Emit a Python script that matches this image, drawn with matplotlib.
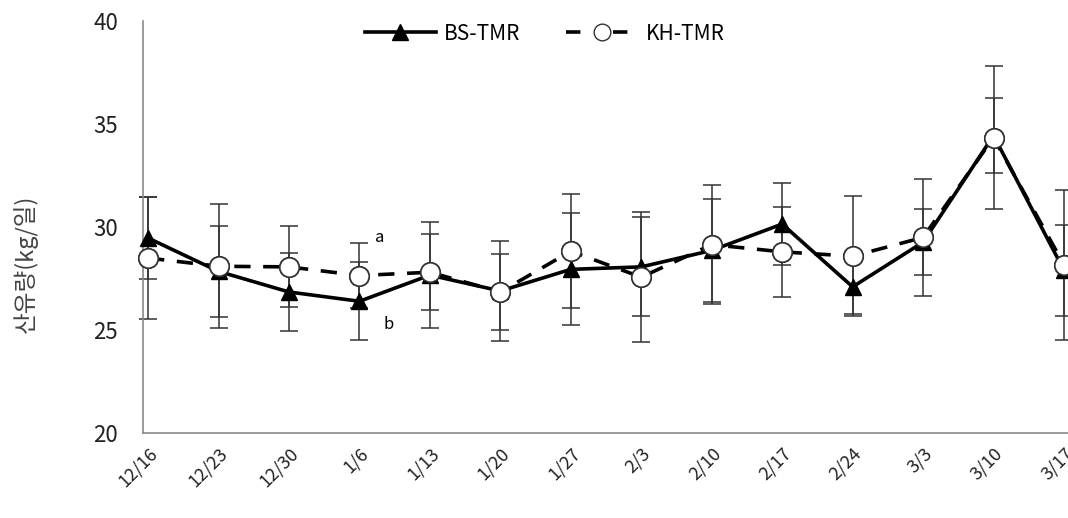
import numpy as np
import matplotlib
matplotlib.use('Agg')
import matplotlib.pyplot as plt
from matplotlib.lines import Line2D
from matplotlib.transforms import ScaledTranslation

plt.rcParams['font.family'] = ['Noto Sans CJK KR', 'DejaVu Sans']

# 주차별 산유량 (평균, 표준편차)
dates = ['12/16', '12/23', '12/30', '1/6', '1/13', '1/20', '1/27',
         '2/3', '2/10', '2/17', '2/24', '3/3', '3/10', '3/17']
bs_mean = [29.47, 27.85, 26.85, 26.4, 27.67, 26.9, 27.95,
           28.07, 28.87, 30.15, 27.1, 29.27, 34.45, 27.9]
bs_sd = [2.0, 2.2, 1.9, 1.9, 2.56, 2.45, 2.72,
         2.4, 2.5, 1.97, 1.3, 1.6, 1.8, 2.2]
kh_mean = [28.5, 28.1, 28.07, 27.65, 27.81, 26.85, 28.83,
           27.57, 29.15, 28.8, 28.59, 29.5, 34.35, 28.17]
kh_sd = [2.95, 3.0, 1.97, 1.6, 1.84, 1.85, 2.78,
         3.15, 2.9, 2.18, 2.9, 2.85, 3.48, 3.63]

x = np.arange(len(dates))

fig = plt.figure(figsize=(10.68, 5.18), dpi=100)
ax = fig.add_axes([0.134, 0.164, 0.866, 0.795])

# 오차막대 먼저 그리고 그 위에 선/마커
for m, s in ((bs_mean, bs_sd), (kh_mean, kh_sd)):
    eb = ax.errorbar(x, m, yerr=s, fmt='none', ecolor='#333333',
                     elinewidth=1.1, capsize=6.5, capthick=1.1, zorder=2)
    for art in eb.lines[1] + eb.lines[2]:
        art.set_clip_on(False)

ax.plot(x, kh_mean, color='black', lw=2.6, ls=(0, (4.5, 3.5)),
        marker='o', ms=14, mfc='white', mec='#333333', mew=1.2,
        zorder=3, clip_on=False)
ax.plot(x, bs_mean, color='black', lw=2.6, ls='-',
        marker='^', ms=12, mfc='black', mec='black',
        zorder=4, clip_on=False)
# KH 원형 마커가 BS 선 위로 보이도록 한 번 더
ax.plot(x, kh_mean, ls='none', marker='o', ms=14, mfc='white',
        mec='#333333', mew=1.2, zorder=5, clip_on=False)

ax.text(3.22, 29.5, 'a', fontsize=12, ha='left', va='center')
ax.text(3.34, 25.25, 'b', fontsize=12, ha='left', va='center')

ax.set_xlim(-0.071, 13.057)
ax.set_ylim(20, 40)
ax.set_yticks([20, 25, 30, 35, 40])
ax.set_xticks(x)
ax.set_xticklabels(dates, rotation=45, ha='right', rotation_mode='anchor',
                   fontsize=13, color='#222222')
shift = ScaledTranslation(12 / 100, 0, fig.dpi_scale_trans)
for lab in ax.get_xticklabels():
    lab.set_transform(lab.get_transform() + shift)
ax.tick_params(axis='y', length=0, pad=18, labelsize=16, labelcolor='#222222')
ax.tick_params(axis='x', length=0, pad=8)

for side in ('top', 'right'):
    ax.spines[side].set_visible(False)
for side in ('left', 'bottom'):
    ax.spines[side].set_color('#8a8a8a')
    ax.spines[side].set_linewidth(1.2)

ax.set_ylabel('산유량(kg/일)', fontsize=17, color='#444444')
ax.yaxis.set_label_coords(-0.114, 0.41)

handles = [
    Line2D([], [], color='black', lw=2.6, marker='^', ms=12, mfc='black'),
    Line2D([], [], color='black', lw=2.6, ls=(0, (4, 9)), marker='o', ms=12,
           mfc='white', mec='#333333', mew=1.0),
]
fig.legend(handles, ['BS-TMR', 'KH-TMR'], loc='center',
           bbox_to_anchor=(0.51, 0.935), ncol=2, frameon=False,
           fontsize=15, handlelength=3.4, columnspacing=2.2, handletextpad=0.4)

fig.savefig('out.png', dpi=100)
